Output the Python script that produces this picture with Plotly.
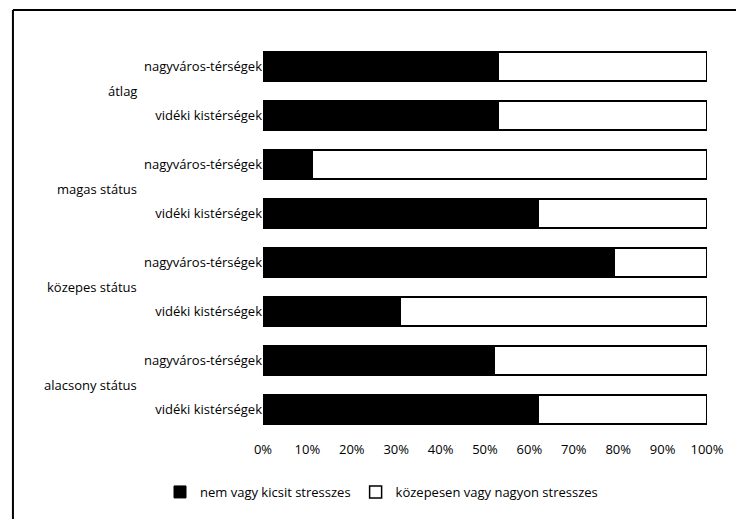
import plotly.graph_objects as go

# data (share of respondents, %)
groups = ["átlag", "magas státus", "közepes státus", "alacsony státus"]
areas = ["nagyváros-térségek", "vidéki kistérségek"]
low_stress = [53, 53, 11, 62, 79, 31, 52, 62]
high_stress = [47, 47, 89, 38, 21, 69, 48, 38]
series_names = ["nem vagy kicsit stresszes", "közepesen vagy nagyon stresszes"]
x_ticks = [0, 10, 20, 30, 40, 50, 60, 70, 80, 90, 100]

rows = list(range(len(groups) * len(areas)))
row_labels = [a for g in groups for a in areas]

# the page body has an 8px margin; figure is sized to fit inside the window
OFF = 8
W, H = 728, 511
ML, MT = 255, 34
pw, ph = 451, 392
MR, MB = W - ML - pw, H - MT - ph


def px_x(p):
    # page pixel -> paper x
    return (p - OFF - ML) / pw


def px_y(p):
    # page pixel -> paper y
    return (H - MB - (p - OFF)) / ph


fig = go.Figure()
fig.add_trace(go.Bar(
    y=rows, x=low_stress, orientation="h", name=series_names[0],
    marker=dict(color="black", line=dict(color="black", width=1)),
    width=0.6,
))
fig.add_trace(go.Bar(
    y=rows, x=high_stress, orientation="h", name=series_names[1],
    marker=dict(color="white", line=dict(color="black", width=1.5)),
    width=0.6,
))

font = "Open Sans, Liberation Sans, sans-serif"

# group labels sit between the two bars of each group
for i, g in enumerate(groups):
    fig.add_annotation(
        text=g, xref="paper", yref="y", x=px_x(137), y=2 * i + 0.5,
        xanchor="right", yanchor="middle", showarrow=False,
        font=dict(size=13, color="black", family=font),
    )

# scanned frame: top and left edge
fig.add_shape(type="line", xref="paper", yref="paper",
              x0=px_x(9), x1=px_x(744), y0=px_y(10), y1=px_y(10),
              line=dict(color="black", width=2))
fig.add_shape(type="line", xref="paper", yref="paper",
              x0=px_x(9), x1=px_x(9), y0=px_y(10), y1=px_y(527),
              line=dict(color="black", width=2))

fig.update_layout(
    barmode="stack",
    width=W, height=H,
    margin=dict(l=ML, r=MR, t=MT, b=MB),
    paper_bgcolor="white", plot_bgcolor="white",
    font=dict(family=font, size=13, color="black"),
    showlegend=True,
    legend=dict(
        orientation="h", xref="container", yref="container",
        x=(160 - OFF) / W, y=1 - (492 - OFF) / H, xanchor="left", yanchor="middle",
        font=dict(size=13), itemwidth=30, traceorder="normal",
    ),
    xaxis=dict(
        range=[0, 100], tickvals=x_ticks,
        ticktext=[f"{t}%" for t in x_ticks],
        showgrid=False, zeroline=False, showline=False,
        ticks="outside", ticklen=3, tickcolor="white",
        fixedrange=True,
    ),
    yaxis=dict(
        range=[len(rows) - 0.5, -0.5],
        tickvals=rows, ticktext=row_labels,
        showgrid=False, zeroline=False, showline=False,
        ticks="", fixedrange=True,
    ),
)

fig.write_html("out.html")
